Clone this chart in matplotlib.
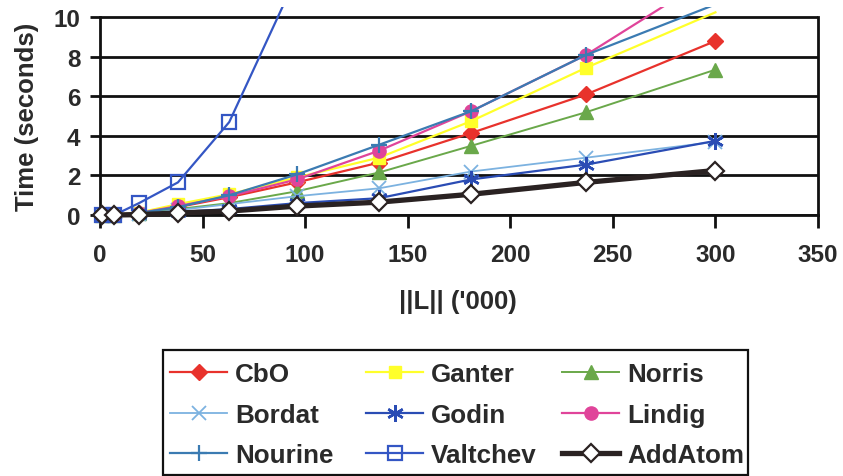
import matplotlib
matplotlib.use("Agg")
import matplotlib.pyplot as plt
from matplotlib.patches import Rectangle

plt.rcParams['font.family'] = ['Liberation Sans', 'DejaVu Sans']
plt.rcParams['font.weight'] = 'bold'

# ---- data ----
lattice_k = [1, 7, 19, 38, 63, 96, 136, 181, 237, 300]
cbo      = [0.0, 0.0, 0.1, 0.4, 0.9, 1.65, 2.65, 4.15, 6.1, 8.8]
ganter   = [0.0, 0.0, 0.12, 0.55, 1.05, 1.9, 2.9, 4.75, 7.45, 10.25]
norris   = [0.0, 0.0, 0.08, 0.3, 0.6, 1.2, 2.15, 3.5, 5.2, 7.35]
bordat   = [0.0, 0.0, 0.05, 0.25, 0.55, 0.95, 1.35, 2.2, 2.9, 3.7]
godin    = [0.0, 0.0, 0.03, 0.15, 0.3, 0.6, 0.85, 1.8, 2.55, 3.75]
lindig   = [0.0, 0.0, 0.1, 0.45, 0.95, 1.8, 3.25, 5.25, 8.1, 12.2]
nourine  = [0.0, 0.0, 0.1, 0.4, 1.0, 2.05, 3.55, 5.25, 8.1, 10.65]
valtchev = [0.0, 0.0, 0.6, 1.65, 4.7, 12.1]
addatom  = [0.0, 0.0, 0.02, 0.1, 0.2, 0.45, 0.65, 1.05, 1.65, 2.25]

x_ticks = [0, 50, 100, 150, 200, 250, 300, 350]
y_ticks = [0, 2, 4, 6, 8, 10]
x_title = "||L|| ('000)"
y_title = "Time (seconds)"

series = [
    ("CbO", cbo, dict(color="#e8322c", marker="D", ms=8.5, mfc="#e8322c", mec="#e8322c", lw=1.6)),
    ("Ganter", ganter, dict(color="#ffff2a", marker="s", ms=9, mfc="#ffff2a", mec="#ffff2a", lw=1.6)),
    ("Norris", norris, dict(color="#6aa84a", marker="^", ms=10, mfc="#6aa84a", mec="#6aa84a", lw=1.4)),
    ("Bordat", bordat, dict(color="#7cb2e0", marker="x", ms=10, mew=1.3, lw=1.3)),
    ("Godin", godin, dict(color="#2a4cb4", marker=(6, 2, 0), ms=12, mew=1.8, lw=1.6)),
    ("Lindig", lindig, dict(color="#e0449a", marker="o", ms=9.5, mfc="#e0449a", mec="#e0449a", lw=1.6)),
    ("Nourine", nourine, dict(color="#3b7bb2", marker="+", ms=12, mew=1.6, lw=1.6)),
    ("Valtchev", valtchev, dict(color="#3456c4", marker="s", ms=10, mfc="none", mec="#3456c4", mew=1.6, lw=1.6)),
    ("AddAtom", addatom, dict(color="#2a2222", marker="D", ms=9.5, mfc="white", mec="#2a2222", mew=1.6, lw=3.8)),
]

W, H = 843, 477
fig = plt.figure(figsize=(W / 100, H / 100), dpi=100)
ax = fig.add_axes([100 / W, 1 - 216 / H, 718 / W, 208 / H])
ax.set_xlim(0, 350)
ax.set_ylim(0, 10.52)

clip = Rectangle((-20, -2), 400, 12.52, transform=ax.transData, visible=False)
ax.add_patch(clip)

handles = {}
for name, ys, st in series:
    xs = lattice_k[:len(ys)]
    mark = [v <= 10.0 for v in ys]
    ln, = ax.plot(xs, ys, label=name, markevery=mark, zorder=3, **st)
    ln.set_clip_path(clip)
    handles[name] = ln

# grid & spines
ax.set_yticks(y_ticks)
ax.set_xticks(x_ticks)
ax.yaxis.grid(True, color="#111111", lw=2.0, zorder=1)
ax.set_axisbelow(True)
ax.spines["top"].set_visible(False)
for s in ("left", "right", "bottom"):
    ax.spines[s].set_color("#111111")
    ax.spines[s].set_linewidth(2.0)
ax.spines["left"].set_bounds(0, 10)
ax.spines["right"].set_bounds(0, 10)

ax.tick_params(axis="x", direction="out", length=9, width=2, color="#111111",
               pad=11, labelsize=17.5, labelcolor="#2a2a2a")
ax.tick_params(axis="y", direction="out", length=7, width=2, color="#111111",
               pad=7, labelsize=17.5, labelcolor="#2a2a2a")
for lab in ax.get_xticklabels() + ax.get_yticklabels():
    lab.set_fontweight("bold")

ax.set_xlabel(x_title, fontsize=18.5, fontweight="bold", color="#2a2a2a")
ax.set_ylabel(y_title, fontsize=18.5, fontweight="bold", color="#2a2a2a")
ax.xaxis.set_label_coords((458 - 100) / 718, -(290 - 216) / 208)
ax.yaxis.set_label_coords(-(100 - 39) / 718, (216 - 117) / 208)

# legend: frame + three equally spaced columns
frame = Rectangle((163 / W, 1 - 476 / H), (748 - 163) / W, (476 - 351) / H,
                  transform=fig.transFigure, fill=False, edgecolor="#111111",
                  linewidth=1.6)
fig.add_artist(frame)

columns = [["CbO", "Bordat", "Nourine"],
           ["Ganter", "Godin", "Valtchev"],
           ["Norris", "Lindig", "AddAtom"]]
col_x = [170, 366, 562]
for names, cx in zip(columns, col_x):
    leg = fig.legend([handles[n] for n in names], names, ncol=1,
                     loc="upper left", bbox_to_anchor=(cx / W, 1 - 363 / H),
                     bbox_transform=fig.transFigure, borderaxespad=0,
                     frameon=False, prop={"size": 18.7, "weight": "bold"},
                     handlelength=2.2, handletextpad=0.3,
                     labelspacing=0.64, borderpad=0)
    for t in leg.get_texts():
        t.set_color("#2a2a2a")

fig.savefig("out.png", dpi=100)
